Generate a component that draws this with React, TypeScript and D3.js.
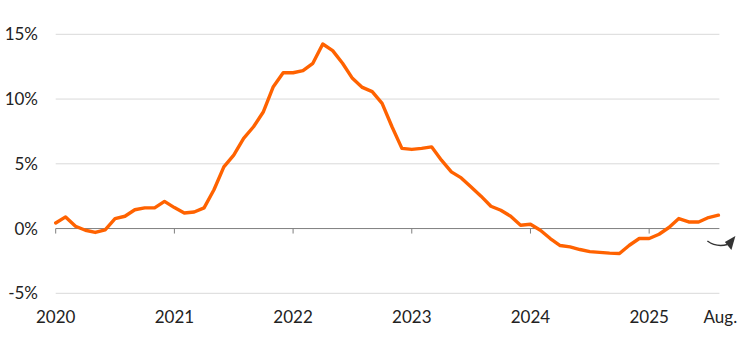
import React from 'react';
import * as d3 from 'd3';

// monthly values, Jan 2020 .. Aug 2025 (%)
const values2020 = [0.43, 0.9, 0.18, -0.13, -0.3, -0.1, 0.77, 0.95, 1.45, 1.6, 1.6, 2.1];
const values2021 = [1.62, 1.2, 1.28, 1.6, 3.0, 4.76, 5.67, 6.96, 7.86, 9.02, 10.95, 12.03];
const values2022 = [12.03, 12.19, 12.76, 14.25, 13.74, 12.76, 11.6, 10.9, 10.57, 9.67, 7.86, 6.19];
const values2023 = [6.11, 6.19, 6.31, 5.28, 4.38, 3.91, 3.2, 2.5, 1.72, 1.41, 0.95, 0.26];
const values2024 = [0.33, -0.13, -0.77, -1.31, -1.42, -1.62, -1.78, -1.84, -1.9, -1.93, -1.29, -0.77];
const values2025 = [-0.77, -0.44, 0.08, 0.77, 0.51, 0.51, 0.85, 1.03];

const yearLabels = ['2020', '2021', '2022', '2023', '2024', '2025'];
const endLabel = 'Aug.';
const yTicks = [-5, 0, 5, 10, 15];

const series = [...values2020, ...values2021, ...values2022, ...values2023, ...values2024, ...values2025];

export default function App() {
  const width = 750;
  const height = 354;
  const margin = { left: 55.7, right: 31.6, top: 34.3, bottom: 60.7 };

  const x = d3.scaleLinear()
    .domain([0, series.length - 1])
    .range([margin.left, width - margin.right]);
  const y = d3.scaleLinear()
    .domain([-5, 15])
    .range([height - margin.bottom, margin.top]);

  const line = d3.line<number>()
    .x((d, i) => x(i))
    .y((d) => y(d));

  const font = 'Lato, "Open Sans", sans-serif';
  const x0 = x.range()[0];
  const x1 = x.range()[1] + 1;
  const endX = x(series.length - 1);
  const zeroY = y(0);

  return (
    <div style={{ position: 'fixed', left: 0, top: 0 }}>
      <svg width={width} height={height} style={{ display: 'block', background: '#fff' }}>
        {/* grid */}
        {yTicks.filter((t) => t !== 0).map((t) => (
          <line key={t} x1={x0} x2={x1} y1={y(t)} y2={y(t)} stroke="#d9d9d9" strokeWidth={1} />
        ))}
        <line x1={x0} x2={x1} y1={zeroY} y2={zeroY} stroke="#7f7f7f" strokeWidth={1} />
        {yearLabels.map((lab, i) => (
          <line key={lab} x1={x(i * 12)} x2={x(i * 12)} y1={zeroY} y2={zeroY + 5} stroke="#7f7f7f" strokeWidth={1} />
        ))}

        {/* y labels */}
        {yTicks.map((t) => (
          <text key={t} x={38} y={y(t)} dy="0.36em" textAnchor="end" fontFamily={font} fontSize={17} fill="#222">
            {t + '%'}
          </text>
        ))}

        {/* x labels */}
        {yearLabels.map((lab, i) => (
          <text key={lab} x={x(i * 12)} y={323} textAnchor="middle" fontFamily={font} fontSize={17} fill="#222">
            {lab}
          </text>
        ))}
        <text x={endX + 2} y={323} textAnchor="middle" fontFamily={font} fontSize={17} fill="#222">{endLabel}</text>

        {/* series */}
        <path d={line(series) || ''} fill="none" stroke="#ff6200" strokeWidth={3.4} strokeLinejoin="round" strokeLinecap="round" />

        {/* arrow annotation */}
        <g transform={`translate(${endX},${zeroY})`}>
          <path d="M-11,12.5 Q-2,19 9,16" fill="none" stroke="#333" strokeWidth={1.4} />
          <path d="M17,7.5 L6.5,13.5 L13,21.5 Z" fill="#333" />
        </g>
      </svg>
    </div>
  );
}
